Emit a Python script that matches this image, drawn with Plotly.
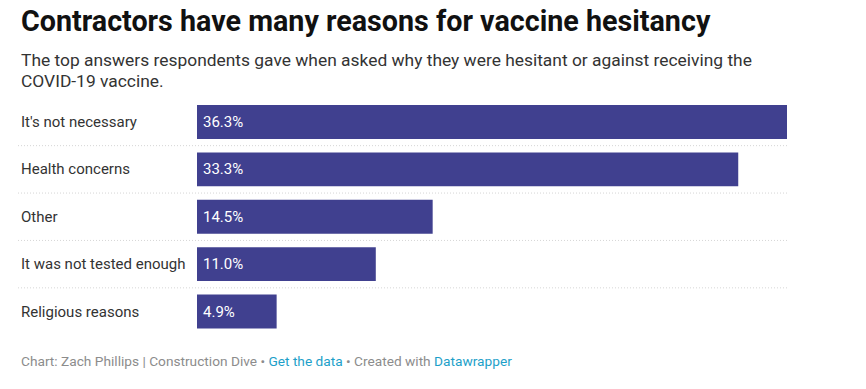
import plotly.graph_objects as go

categories = ["It's not necessary", "Health concerns", "Other", "It was not tested enough", "Religious reasons"]
values = [36.3, 33.3, 14.5, 11.0, 4.9]
value_labels = ["36.3%", "33.3%", "14.5%", "11.0%", "4.9%"]

W, H = 866, 389
BAR_COLOR = "#40408f"
FONT = "Roboto"

def px_x(p):
    return p / W

def px_y(p):
    return 1 - p / H

fig = go.Figure()
fig.add_trace(go.Bar(
    x=values, y=categories, orientation="h",
    marker=dict(color=BAR_COLOR, line=dict(width=0)),
    hoverinfo="skip",
))

annotations = []
shapes = []
for i, (c, v, lab) in enumerate(zip(categories, values, value_labels)):
    annotations.append(dict(
        x=px_x(19), xref="paper", y=c, yref="y", xanchor="left", yanchor="middle",
        text=c, showarrow=False, font=dict(family=FONT, size=15, color="#333333"),
    ))
    annotations.append(dict(
        x=0, xref="x", y=c, yref="y", xanchor="left", yanchor="middle", xshift=4,
        text=lab, showarrow=False, font=dict(family=FONT, size=15, color="#ffffff"),
    ))
    if i < len(categories) - 1:
        shapes.append(dict(
            type="line", xref="paper", yref="y",
            x0=px_x(18), x1=px_x(787), y0=i + 0.5, y1=i + 0.5,
            line=dict(color="#d6d6d6", width=1, dash="1px,2px"),
        ))

annotations.append(dict(
    x=px_x(19), xref="paper", y=px_y(21), yref="paper", xanchor="left", yanchor="middle",
    text="<b>Contractors have many reasons for vaccine hesitancy</b>", showarrow=False,
    font=dict(family=FONT, size=28.7, color="#111111"),
))
subtitle_lines = [
    "The top answers respondents gave when asked why they were hesitant or against receiving the",
    "COVID-19 vaccine.",
]
for j, line in enumerate(subtitle_lines):
    annotations.append(dict(
        x=px_x(19), xref="paper", y=px_y(60 + 21 * j), yref="paper", xanchor="left", yanchor="middle",
        text=line, showarrow=False, font=dict(family=FONT, size=17.4, color="#333333"),
    ))
annotations.append(dict(
    x=px_x(19), xref="paper", y=px_y(361), yref="paper", xanchor="left", yanchor="middle",
    text="Chart: Zach Phillips | Construction Dive • <span style='color:#1d9fc9'>Get the data</span> • Created with <span style='color:#1d9fc9'>Datawrapper</span>",
    showarrow=False, font=dict(family=FONT, size=13.7, color="#8c8c8c"),
))

fig.update_layout(
    width=W, height=H, autosize=False,
    margin=dict(l=0, r=0, t=0, b=0),
    paper_bgcolor="white", plot_bgcolor="white",
    showlegend=False, bargap=0.284,
    xaxis=dict(domain=[px_x(197), px_x(787)], range=[0, 36.3], visible=False, fixedrange=True),
    yaxis=dict(domain=[px_y(335.25), px_y(98.25)], autorange="reversed", visible=False,
               categoryorder="array", categoryarray=categories, fixedrange=True),
    annotations=annotations, shapes=shapes,
)

fig.write_html(
    "out.html",
    config={"displayModeBar": False},
    post_script="document.body.style.margin='0';document.body.style.overflow='hidden';",
)
